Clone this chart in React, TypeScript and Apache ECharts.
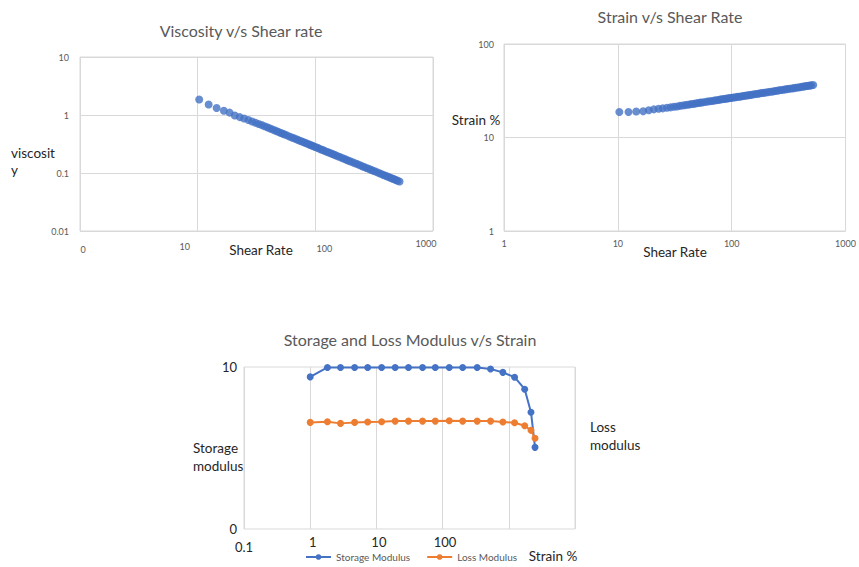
import React, { useEffect, useRef } from "react";
import * as echarts from "echarts";

// Chart 1 & 2 : shear rate (x) shared by both scatter charts
const shearRate = [
  10.3, 12.4, 14.5, 16.7, 18.7, 20.7, 22.8, 24.8, 27, 29, 31, 33,
  35, 37, 39, 41, 43, 45, 47, 49, 51, 53, 55,
  58, 61, 64, 67, 70, 73, 76, 79, 82, 85, 88, 91, 94, 97, 100,
  104, 108, 112, 116, 120,
  125, 130, 135, 140, 145, 150,
  157, 164, 171, 178, 185, 192, 200,
  210, 220, 230, 240, 250, 260,
  272, 284, 296, 308, 320,
  335, 350, 365, 380, 395, 410, 425, 440, 455, 470, 485, 500, 520,
];
const viscosity = [
  1.85, 1.52, 1.32, 1.18, 1.1, 0.98, 0.92, 0.87, 0.82, 0.775, 0.735, 0.7,
  0.67, 0.64, 0.613, 0.588, 0.565, 0.544, 0.525, 0.507, 0.49, 0.475, 0.461,
  0.441, 0.423, 0.406, 0.391, 0.377, 0.364, 0.352, 0.341, 0.331, 0.321, 0.312, 0.303, 0.295, 0.288, 0.28,
  0.272, 0.263, 0.255, 0.248, 0.241,
  0.233, 0.226, 0.219, 0.212, 0.206, 0.2,
  0.193, 0.186, 0.18, 0.174, 0.168, 0.163, 0.158,
  0.152, 0.146, 0.141, 0.136, 0.131, 0.127,
  0.122, 0.118, 0.114, 0.11, 0.107,
  0.103, 0.0991, 0.0957, 0.0926, 0.0897, 0.087, 0.0844, 0.082, 0.0797, 0.0776, 0.0756, 0.0737, 0.0714,
];
const strainPct = [
  18.7, 18.7, 19.0, 19.1, 19.6, 20.0, 20.3, 20.5, 20.8, 21.0, 21.3, 21.5,
  21.8, 22.0, 22.2, 22.4, 22.6, 22.8, 23.0, 23.2, 23.4, 23.6, 23.7,
  24.0, 24.2, 24.4, 24.6, 24.8, 25.0, 25.2, 25.4, 25.6, 25.8, 25.9, 26.1, 26.3, 26.4, 26.6,
  26.8, 27.0, 27.2, 27.3, 27.5,
  27.7, 27.9, 28.1, 28.3, 28.5, 28.7,
  29.0, 29.2, 29.4, 29.7, 29.9, 30.1, 30.3,
  30.6, 30.9, 31.1, 31.4, 31.6, 31.9,
  32.2, 32.4, 32.7, 32.9, 33.2,
  33.4, 33.7, 34.0, 34.3, 34.5, 34.8, 35.0, 35.2, 35.5, 35.7, 35.9, 36.1, 36.4,
];

// Chart 3 : modulus vs strain
const modStrain = [
  1, 1.82, 2.87, 4.69, 7.38, 12.0, 19.2, 30.5, 49.8, 77.5, 126, 201, 333, 530, 813,
  1223, 1738, 2163, 2490,
];
const storageModulus = [
  9.39, 9.97, 9.97, 9.97, 9.97, 9.97, 9.97, 9.97, 9.97, 9.97, 9.97, 9.97, 9.97, 9.88,
  9.67, 9.37, 8.63, 7.21, 5.04,
];
const lossModulus = [
  6.58, 6.62, 6.52, 6.58, 6.6, 6.62, 6.66, 6.66, 6.66, 6.66, 6.68, 6.66, 6.66, 6.66,
  6.6, 6.56, 6.37, 6.09, 5.6,
];

// Tick labels (indexed by decade)
const viscXLabels = ["0", "10", "100", "1000"]; // decades 0..3
const viscYLabels = ["0.01", "0.1", "1", "10"]; // decades -2..1
const strainXLabels = ["1", "10", "100", "1000"];
const strainYLabels = ["1", "10", "100"];
const modXLabels = ["0.1", "1", "10", "100", "", ""]; // decades -1..4
const modYLabels = ["0", "10"];

const FONT = "Lato, 'Open Sans', sans-serif";
const GRID_C = "#D9D9D9";
const BLUE = "#4472C4";
const ORANGE = "#ED7D31";

const dec = (v: number) => Math.round(Math.log10(v));

export default function App() {
  const ref = useRef<HTMLDivElement>(null);
  useEffect(() => {
    if (!ref.current) return;
    const chart = echarts.init(ref.current, null, { renderer: "svg" });
    const splitLine = { show: true, lineStyle: { color: GRID_C, width: 1 } };
    const baseAxis = {
      axisLine: { show: false },
      axisTick: { show: false },
      splitLine,
    };
    const titleStyle = { fontSize: 16, fontWeight: "normal", color: "#595959", fontFamily: FONT };
    const axisTitle = `13.5px ${FONT}`;
    const option: any = {
      animation: false,
      backgroundColor: "#ffffff",
      textStyle: { fontFamily: FONT },
      title: [
        { text: "Viscosity v/s Shear rate", left: 241, top: 22, textAlign: "center", padding: 0, textStyle: titleStyle },
        { text: "Strain v/s Shear Rate", left: 670, top: 8, textAlign: "center", padding: 0, textStyle: titleStyle },
        { text: "Storage and Loss Modulus v/s Strain", left: 410, top: 331, textAlign: "center", padding: 0, textStyle: titleStyle },
      ],
      grid: [
        { left: 80, top: 57, width: 353, height: 174, show: true, borderColor: GRID_C, borderWidth: 1, containLabel: false },
        { left: 504, top: 44, width: 342, height: 187, show: true, borderColor: GRID_C, borderWidth: 1, containLabel: false },
        { left: 244, top: 367, width: 331, height: 162, show: true, borderColor: GRID_C, borderWidth: 1, containLabel: false },
      ],
      xAxis: [
        {
          ...baseAxis,
          gridIndex: 0,
          type: "log",
          logBase: 10,
          min: 1,
          max: 1000,
          axisLabel: {
            margin: 8,
            color: "#595959",
            fontSize: 9,
            fontFamily: FONT,
            formatter: (v: number) => {
              const i = dec(v);
              return `{l${i}|${viscXLabels[i] ?? ""}}`;
            },
            rich: {
              l0: { padding: [6, 0, 0, 6], fontSize: 9, color: "#595959" },
              l1: { padding: [3, 26, 0, 0], fontSize: 9, color: "#595959" },
              l2: { padding: [5, 0, 0, 18], fontSize: 9, color: "#595959" },
              l3: { padding: [0, 14, 0, 0], fontSize: 9, color: "#595959" },
            },
          },
        },
        {
          ...baseAxis,
          gridIndex: 1,
          type: "log",
          logBase: 10,
          min: 1,
          max: 1000,
          axisLabel: {
            margin: 8,
            color: "#595959",
            fontSize: 9,
            fontFamily: FONT,
            formatter: (v: number) => strainXLabels[dec(v)] ?? "",
          },
        },
        {
          ...baseAxis,
          gridIndex: 2,
          type: "log",
          logBase: 10,
          min: 0.1,
          max: 10000,
          axisLabel: {
            margin: 6,
            color: "#262626",
            fontSize: 13,
            fontFamily: FONT,
            formatter: (v: number) => {
              const i = dec(v);
              const t = modXLabels[i + 1] ?? "";
              return i === -1 ? `{lo|${t}}` : `{n|${t}}`;
            },
            rich: {
              lo: { padding: [5, 0, 0, 0], fontSize: 13, color: "#262626" },
              n: { padding: [0, 0, 0, 5], fontSize: 13, color: "#262626" },
            },
          },
        },
      ],
      yAxis: [
        {
          ...baseAxis,
          gridIndex: 0,
          type: "log",
          logBase: 10,
          min: 0.01,
          max: 10,
          axisLabel: {
            margin: 11,
            color: "#595959",
            fontSize: 9,
            fontFamily: FONT,
            formatter: (v: number) => viscYLabels[dec(v) + 2] ?? "",
          },
        },
        {
          ...baseAxis,
          gridIndex: 1,
          type: "log",
          logBase: 10,
          min: 1,
          max: 100,
          axisLabel: {
            margin: 10,
            color: "#595959",
            fontSize: 9,
            fontFamily: FONT,
            formatter: (v: number) => strainYLabels[dec(v)] ?? "",
          },
        },
        {
          ...baseAxis,
          gridIndex: 2,
          type: "value",
          min: 0,
          max: 10,
          interval: 10,
          splitLine: { show: false },
          axisLabel: {
            margin: 7,
            color: "#262626",
            fontSize: 13,
            fontFamily: FONT,
            formatter: (v: number) => modYLabels[Math.round(v / 10)] ?? "",
          },
        },
      ],
      legend: {
        data: ["Storage Modulus", "Loss Modulus"],
        left: 305,
        top: 552,
        padding: 0,
        itemWidth: 25,
        itemHeight: 7,
        itemGap: 16,
        textStyle: { fontSize: 10, color: "#595959", fontFamily: FONT },
      },
      series: [
        {
          type: "scatter",
          xAxisIndex: 0,
          yAxisIndex: 0,
          symbol: "circle",
          symbolSize: 8,
          itemStyle: { color: BLUE },
          data: shearRate.map((s, i) => [s, viscosity[i]]),
        },
        {
          type: "scatter",
          xAxisIndex: 1,
          yAxisIndex: 1,
          symbol: "circle",
          symbolSize: 8,
          itemStyle: { color: BLUE },
          data: shearRate.map((s, i) => [s, strainPct[i]]),
        },
        {
          name: "Storage Modulus",
          type: "line",
          xAxisIndex: 2,
          yAxisIndex: 2,
          symbol: "circle",
          symbolSize: 7,
          lineStyle: { color: BLUE, width: 2 },
          itemStyle: { color: BLUE },
          data: modStrain.map((s, i) => [s, storageModulus[i]]),
        },
        {
          name: "Loss Modulus",
          type: "line",
          xAxisIndex: 2,
          yAxisIndex: 2,
          symbol: "circle",
          symbolSize: 7,
          lineStyle: { color: ORANGE, width: 2 },
          itemStyle: { color: ORANGE },
          data: modStrain.map((s, i) => [s, lossModulus[i]]),
        },
      ],
      graphic: [
        { type: "text", x: 11, y: 144, style: { text: "viscosit\ny", font: axisTitle, fill: "#262626", lineHeight: 17 } },
        { type: "text", x: 261, y: 250, style: { text: "Shear Rate", font: axisTitle, fill: "#262626", align: "center", verticalAlign: "middle" } },
        { type: "text", x: 476, y: 120, style: { text: "Strain %", font: axisTitle, fill: "#262626", align: "center", verticalAlign: "middle" } },
        { type: "text", x: 675, y: 252, style: { text: "Shear Rate", font: axisTitle, fill: "#262626", align: "center", verticalAlign: "middle" } },
        { type: "text", x: 193, y: 439, style: { text: "Storage\nmodulus", font: axisTitle, fill: "#262626", lineHeight: 18 } },
        { type: "text", x: 590, y: 418, style: { text: "Loss\nmodulus", font: axisTitle, fill: "#262626", lineHeight: 18 } },
        { type: "text", x: 553, y: 556, style: { text: "Strain %", font: axisTitle, fill: "#262626", align: "center", verticalAlign: "middle" } },
      ],
    };
    chart.setOption(option);
    return () => chart.dispose();
  }, []);
  return (
    <div
      ref={ref}
      style={{ position: "absolute", left: 0, top: 0, width: 859, height: 567, background: "#fff" }}
    />
  );
}
